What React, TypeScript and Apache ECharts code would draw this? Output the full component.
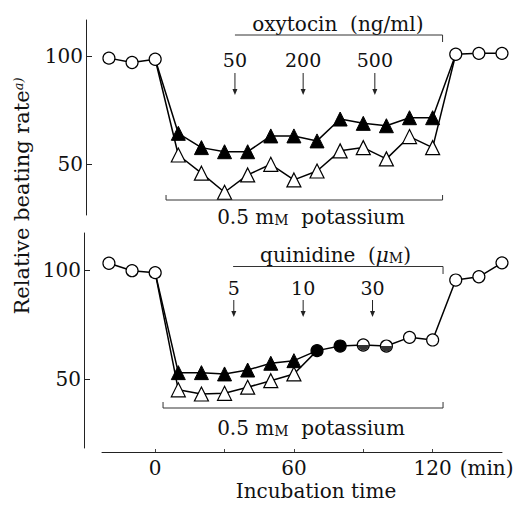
import React, { useEffect, useRef } from "react";
import * as echarts from "echarts";

// ---------- data ----------
const midTimes = [10, 20, 30, 40, 50, 60, 70, 80, 90, 100, 110, 120];
const preTimes = [-20, -10, 0];
const postTimes = [130, 140, 150];

// Top panel (oxytocin)
const topPre = [99, 97, 98.5];
const topPost = [100.8, 101.2, 101.2];
const topFilledTri = [64.3, 57.7, 55.8, 55.8, 63.1, 63.1, 60.8, 70.9, 68.9, 67.8, 71.5, 71.5];
const topOpenTri = [54.3, 45.9, 37.1, 45.1, 50.0, 42.8, 46.9, 56.2, 57.7, 52.5, 62.8, 57.7];

// Bottom panel (quinidine)
const botPre = [103.1, 99.7, 98.8];
const botTriTimes = [10, 20, 30, 40, 50, 60];
const botFilledTri = [52.9, 52.9, 52.3, 54.1, 57.2, 58.4];
const botOpenTri = [45.0, 43.1, 43.4, 46.2, 49.2, 52.3];
const botCommonTimes = [70, 80, 90, 100, 110, 120, 130, 140, 150];
const botCommon = [63.0, 65.1, 65.6, 65.1, 69.1, 67.9, 95.4, 96.9, 103.3];
const botCommonMarker = ["filled", "filled", "half", "half", "open", "open", "open", "open", "open"];

// Axis ticks / labels
const xTicks = [0, 30, 60, 90, 120];
const xLabels = [0, 60, 120];
const yLabels = [50, 100];

// Annotations
const oxyArrowTimes = [34.5, 64, 95];
const oxyArrowLabels = ["50", "200", "500"];
const quinArrowTimes = [34, 64, 94];
const quinArrowLabels = ["5", "10", "30"];

const FONT = '"DejaVu Serif", "Liberation Serif", serif';
const INK = "#111";
const HALF_PATH = "path://M-10,0 A10,10 0 0 0 10,0 Z";

const lineStyle = { color: "#000", width: 1.5 };

function pts(times: number[], vals: number[]) {
  return times.map((t, i) => [t, vals[i]]);
}

export default function App() {
  const ref = useRef<HTMLDivElement>(null);

  useEffect(() => {
    if (!ref.current) return;
    const chart = echarts.init(ref.current, null, { renderer: "svg" });

    const yAxisBase = (gridIndex: number, min: number, max: number, offset: number) => ({
      type: "value",
      gridIndex,
      min,
      max,
      offset,
      position: "left",
      axisLine: { show: true, onZero: false, lineStyle: { color: "#222", width: 1 } },
      axisTick: { show: true, inside: true, length: 6, customValues: yLabels, lineStyle: { color: "#222" } },
      axisLabel: { show: true, customValues: yLabels, margin: 3, fontSize: 20, fontFamily: FONT, color: INK },
      splitLine: { show: false },
    });

    const openTri = { symbol: "triangle", symbolSize: 14, itemStyle: { color: "#fff", borderColor: "#000", borderWidth: 1.2 } };
    const filledTri = { symbol: "triangle", symbolSize: 14, itemStyle: { color: "#000", borderColor: "#000", borderWidth: 1 } };
    const openCircle = { symbol: "circle", symbolSize: 12, itemStyle: { color: "#fff", borderColor: "#000", borderWidth: 1.2 } };
    const filledCircle = { symbol: "circle", symbolSize: 12, itemStyle: { color: "#000", borderColor: "#000", borderWidth: 1.2 } };

    const triSeries = (gridIndex: number, times: number[], vals: number[], start: number[], end: number[], style: any) => ({
      type: "line",
      xAxisIndex: gridIndex,
      yAxisIndex: gridIndex,
      clip: false,
      silent: true,
      z: 2,
      lineStyle,
      data: [
        { value: start, symbol: "none" },
        ...pts(times, vals).map((p) => ({ value: p, ...style })),
        { value: end, symbol: "none" },
      ],
    });

    const circleSeries = (gridIndex: number, times: number[], vals: number[]) => ({
      type: "line",
      xAxisIndex: gridIndex,
      yAxisIndex: gridIndex,
      clip: false,
      silent: true,
      z: 3,
      lineStyle,
      ...openCircle,
      data: pts(times, vals),
    });

    const botCommonData = botCommonTimes.map((t, i) => {
      const m = botCommonMarker[i];
      const st = m === "filled" ? filledCircle : openCircle;
      return { value: [t, botCommon[i]], ...st };
    });
    const halfData = botCommonTimes
      .map((t, i) => ({ t, v: botCommon[i], m: botCommonMarker[i] }))
      .filter((d) => d.m === "half")
      .map((d) => [d.t, d.v]);

    chart.setOption({
      animation: false,
      backgroundColor: "#fff",
      grid: [
        { left: 102, top: 20, width: 400, height: 195 },
        { left: 102, top: 233, width: 400, height: 215 },
      ],
      xAxis: [
        { type: "value", gridIndex: 0, min: -23, max: 150, show: false },
        {
          type: "value",
          gridIndex: 1,
          min: -23,
          max: 150,
          offset: 4,
          position: "bottom",
          axisLine: { show: true, onZero: false, lineStyle: { color: "#222", width: 1 } },
          axisTick: { show: true, inside: true, length: 3, customValues: xTicks, lineStyle: { color: "#444" } },
          axisLabel: { show: true, customValues: xLabels, margin: 6, fontSize: 20, fontFamily: FONT, color: INK },
          splitLine: { show: false },
          name: "Incubation time",
          nameLocation: "middle",
          nameGap: 29,
          nameTextStyle: { fontSize: 20, fontFamily: FONT, color: INK, padding: [0, 0, 0, 28] },
        },
      ],
      yAxis: [yAxisBase(0, 26.6, 116.6, 16), yAxisBase(1, 18.3, 117, 18)],
      series: [
        // top panel
        triSeries(0, midTimes, topOpenTri, [0, topPre[2]], [130, topPost[0]], openTri),
        triSeries(0, midTimes, topFilledTri, [0, topPre[2]], [130, topPost[0]], filledTri),
        circleSeries(0, preTimes, topPre),
        circleSeries(0, postTimes, topPost),
        // bottom panel
        triSeries(1, botTriTimes, botOpenTri, [0, botPre[2]], [70, botCommon[0]], openTri),
        triSeries(1, botTriTimes, botFilledTri, [0, botPre[2]], [70, botCommon[0]], filledTri),
        circleSeries(1, preTimes, botPre),
        {
          type: "line",
          xAxisIndex: 1,
          yAxisIndex: 1,
          clip: false,
          silent: true,
          z: 3,
          lineStyle,
          data: botCommonData,
        },
        {
          type: "scatter",
          xAxisIndex: 1,
          yAxisIndex: 1,
          clip: false,
          silent: true,
          z: 4,
          symbol: HALF_PATH,
          symbolSize: 11,
          symbolKeepAspect: true,
          symbolOffset: [0, 2.75],
          itemStyle: { color: "#000", borderWidth: 0 },
          data: halfData,
        },
      ],
    });

    const px = (g: number, t: number) => (chart.convertToPixel({ gridIndex: g } as any, [t, 50]) as number[])[0];

    const text = (x: number, y: number, t: string, size: number, extra: any = {}) => ({
      type: "text",
      x,
      y,
      silent: true,
      ...extra,
      style: {
        text: t,
        fontSize: size,
        fontFamily: FONT,
        fill: INK,
        align: "center",
        verticalAlign: "middle",
        textAlign: "center",
        textVerticalAlign: "middle",
        ...(extra.style || {}),
      },
    });

    const seg = (x1: number, y1: number, x2: number, y2: number, w = 1, c = "#333") => ({
      type: "line",
      silent: true,
      shape: { x1, y1, x2, y2 },
      style: { stroke: c, lineWidth: w },
    });

    const arrow = (x: number, y1: number, y2: number) => [
      seg(x, y1, x, y2 - 4, 1, "#222"),
      {
        type: "polygon",
        silent: true,
        shape: { points: [[x - 2.5, y2 - 6], [x + 2.5, y2 - 6], [x, y2]] },
        style: { fill: "#222" },
      },
    ];

    const smallCaps = { sc: { fontSize: 14, fontFamily: FONT, fill: INK, verticalAlign: "bottom" } };
    const graphics: any[] = [];

    // Y title
    graphics.push(
      text(22, 196, "Relative beating rate{sup|a)}", 21, {
        rotation: Math.PI / 2,
        style: {
          rich: { sup: { fontSize: 13, fontStyle: "italic", fontFamily: FONT, fill: INK, verticalAlign: "top" } },
        },
      })
    );

    // top panel annotations
    graphics.push(text(px(0, 79), 24, "oxytocin  (ng/ml)", 20));
    graphics.push(seg(px(0, 34.5), 35, px(0, 124.3), 35));
    graphics.push(seg(px(0, 124.3), 35, px(0, 124.3), 42));
    oxyArrowTimes.forEach((t, i) => {
      const x = px(0, t);
      graphics.push(text(x, 60, oxyArrowLabels[i], 19));
      graphics.push(...arrow(x, 73, 95));
    });
    graphics.push(seg(px(0, 4.7), 200, px(0, 124.3), 200));
    graphics.push(seg(px(0, 4.7), 195, px(0, 4.7), 200));
    graphics.push(seg(px(0, 124.3), 195, px(0, 124.3), 200));
    graphics.push(text(px(0, 67.4), 217, "0.5 m{sc|M}  potassium", 20, { style: { rich: smallCaps } }));

    // bottom panel annotations
    graphics.push(
      text(px(1, 78), 255, "quinidine  ({mu|μ}{sc|M})", 20, {
        style: {
          rich: {
            ...smallCaps,
            mu: { fontSize: 20, fontStyle: "italic", fontFamily: FONT, fill: INK },
          },
        },
      })
    );
    graphics.push(seg(px(1, 33.7), 266.5, px(1, 124.5), 266.5));
    graphics.push(seg(px(1, 124.5), 266.5, px(1, 124.5), 274));
    quinArrowTimes.forEach((t, i) => {
      const x = px(1, t);
      graphics.push(text(x, 288, quinArrowLabels[i], 19));
      graphics.push(...arrow(x, 300, 317));
    });
    graphics.push(seg(px(1, 3.4), 408, px(1, 124.5), 408));
    graphics.push(seg(px(1, 3.4), 402, px(1, 3.4), 408));
    graphics.push(seg(px(1, 124.5), 402, px(1, 124.5), 408));
    graphics.push(text(px(1, 67.4), 428, "0.5 m{sc|M}  potassium", 20, { style: { rich: smallCaps } }));

    // (min) unit after 120
    graphics.push(
      text(px(1, 120) + 27, 468, "(min)", 20, {
        style: { align: "left", textAlign: "left" },
      })
    );

    chart.setOption({ graphic: { elements: graphics } });

    return () => chart.dispose();
  }, []);

  return (
    <div
      ref={ref}
      style={{ position: "absolute", left: 0, top: 0, width: 520, height: 509, background: "#fff" }}
    />
  );
}
